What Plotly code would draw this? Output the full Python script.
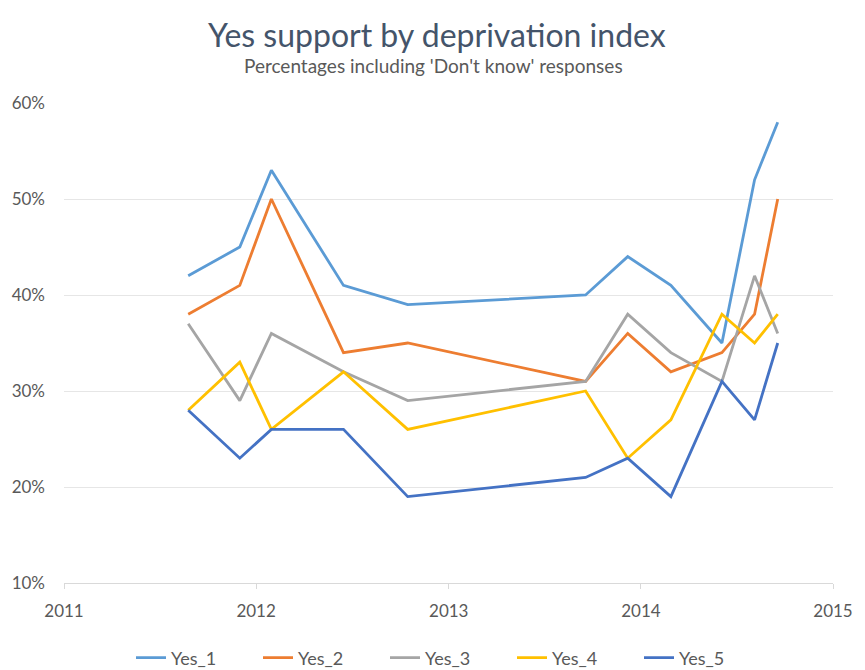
import plotly.graph_objects as go

# Survey fieldwork dates
dates = ["2011-08-25", "2011-12-01", "2012-01-30", "2012-06-15", "2012-10-15",
         "2013-09-18", "2013-12-07", "2014-02-27", "2014-06-04", "2014-08-05",
         "2014-09-18"]

# Yes share (%) by deprivation quintile, including 'Don't know'
yes_1 = [42, 45, 53, 41, 39, 40, 44, 41, 35, 52, 58]
yes_2 = [38, 41, 50, 34, 35, 31, 36, 32, 34, 38, 50]
yes_3 = [37, 29, 36, 32, 29, 31, 38, 34, 31, 42, 36]
yes_4 = [28, 33, 26, 32, 26, 30, 23, 27, 38, 35, 38]
yes_5 = [28, 23, 26, 26, 19, 21, 23, 19, 31, 27, 35]

series_names = ["Yes_1", "Yes_2", "Yes_3", "Yes_4", "Yes_5"]
series_values = [yes_1, yes_2, yes_3, yes_4, yes_5]
colors = ["#5B9BD5", "#ED7D31", "#A5A5A5", "#FFC000", "#4472C4"]

year_ticks = ["2011-01-01", "2012-01-01", "2013-01-01", "2014-01-01", "2015-01-01"]
year_labels = ["2011", "2012", "2013", "2014", "2015"]
pct_ticks = [10, 20, 30, 40, 50, 60]

FONT = "Lato"
TEXT = "#595959"

fig = go.Figure()
for name, vals, col in zip(series_names, series_values, colors):
    fig.add_trace(go.Scatter(
        x=dates, y=vals, name=name, mode="lines",
        line=dict(color=col, width=2.8),
    ))

fig.update_layout(
    width=865, height=670,
    margin=dict(l=64, r=28, t=103, b=87),
    paper_bgcolor="white", plot_bgcolor="white",
    font=dict(family=FONT, color=TEXT, size=14),
    title=dict(
        text="Yes support by deprivation index",
        x=0.505, xanchor="center", yref="container", y=1 - 36 / 670, yanchor="middle",
        font=dict(family=FONT, size=32, color="#44546A"),
    ),
    annotations=[dict(
        text="Percentages including 'Don't know' responses",
        xref="paper", yref="paper", x=0.48, y=(583 - 66) / 480,
        xanchor="center", yanchor="middle", showarrow=False,
        font=dict(family=FONT, size=19, color=TEXT),
    )],
    xaxis=dict(
        type="date",
        range=["2011-01-01", "2015-01-01"],
        tickvals=year_ticks, ticktext=year_labels,
        showgrid=False,
        showline=True, linecolor="#D9D9D9", linewidth=1,
        ticks="outside", ticklen=5, tickcolor="#D9D9D9",
        tickfont=dict(size=17, color=TEXT),
        ticklabelstandoff=8,
    ),
    yaxis=dict(
        range=[10, 60],
        tickvals=pct_ticks, ticktext=[f"{v}%" for v in pct_ticks],
        showgrid=True, gridcolor="#E6E6E6", gridwidth=1,
        zeroline=False, showline=False, ticks="",
        tickfont=dict(size=17, color=TEXT),
        ticklabelstandoff=18,
    ),
    legend=dict(
        orientation="h", x=0.5, xanchor="center",
        yref="container", y=1 - 658 / 670, yanchor="middle",
        font=dict(size=18, color=TEXT),
        entrywidth=82, entrywidthmode="pixels", tracegroupgap=0,
    ),
    showlegend=True,
)

fig.write_html("out.html")
